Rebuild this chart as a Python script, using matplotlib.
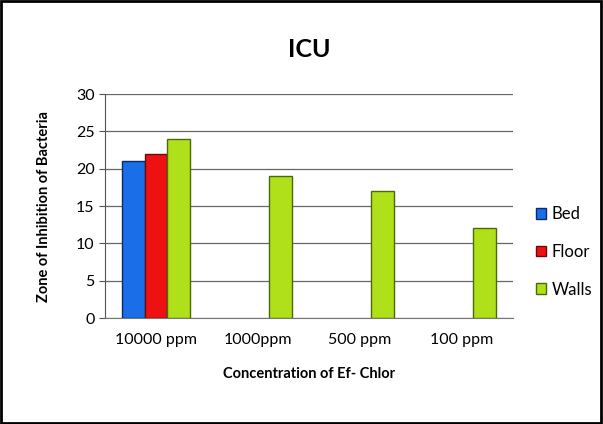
import numpy as np
import matplotlib.pyplot as plt

plt.rcParams['font.family'] = ['Lato', 'DejaVu Sans']

categories = ['10000 ppm', '1000ppm', '500 ppm', '100 ppm']
series = ['Bed', 'Floor', 'Walls']
bed = [21, 0, 0, 0]
floor = [22, 0, 0, 0]
walls = [24, 19, 17, 12]
values = [bed, floor, walls]

colors = ['#1a6fe8', '#ee1111', '#b0e01a']
edges = ['#0a2a6a', '#6a0a0a', '#4a6a0a']

fig = plt.figure(figsize=(6.03, 4.24), dpi=100)
fig.patches.append(plt.Rectangle((0.002, 0.003), 0.995, 0.994, transform=fig.transFigure,
                                 fill=False, edgecolor='black', linewidth=2))
ax = fig.add_axes([0.174, 0.25, 0.677, 0.528])

x = np.arange(len(categories))
w = 0.222
for i, (name, vals) in enumerate(zip(series, values)):
    # zero values are not drawn at all
    h = [v if v else np.nan for v in vals]
    ax.bar(x + (i - 1) * w, h, width=w, color=colors[i], edgecolor=edges[i],
           linewidth=1, label=name, zorder=3)

ax.set_xlim(-0.5, len(categories) - 0.5)
ax.set_ylim(0, 30)
ax.set_yticks(range(0, 31, 5))
ax.set_xticks(x)
ax.set_xticklabels(categories, fontsize=11.5)
ax.tick_params(axis='y', labelsize=11.5, length=4, color='#555555')
ax.tick_params(axis='x', length=0, pad=11)
ax.yaxis.grid(True, color='#666666', linewidth=0.9, zorder=0)
ax.set_axisbelow(True)
for s in ['top', 'right']:
    ax.spines[s].set_visible(False)
ax.spines['left'].set_color('#555555')
ax.spines['bottom'].set_color('#777777')

ax.set_title('ICU', fontsize=18, fontweight='bold', pad=27)
ax.set_xlabel('Concentration of Ef- Chlor', fontsize=10.5, fontweight='bold', labelpad=14)
ax.set_ylabel('Zone of Inhibition of Bacteria', fontsize=10.5, fontweight='bold', labelpad=18)

leg = ax.legend(loc='center left', bbox_to_anchor=(1.02, 0.295), frameon=False,
                fontsize=12, handlelength=0.6, handleheight=0.6, handletextpad=0.3,
                labelspacing=1.3)

fig.savefig('out.png', dpi=100)
